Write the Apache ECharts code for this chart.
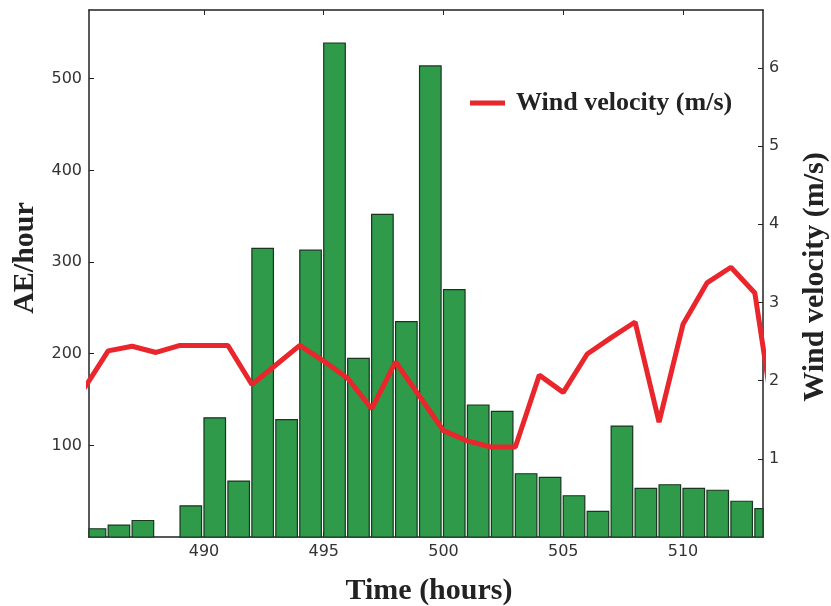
<!DOCTYPE html>
<html>
<head>
<meta charset="utf-8">
<script src="https://cdn.jsdelivr.net/npm/echarts@6/dist/echarts.min.js"></script>
<style>
  html, body { margin: 0; padding: 0; background: #fff; }
  #chart { width: 831px; height: 606px; }
</style>
</head>
<body>
<div id="chart"></div>
<script>
// hourly AE counts (bars start at the hour, no bar at 488)
const aeHours = [485, 486, 487, 489, 490, 491, 492, 493, 494, 495, 496, 497, 498, 499,
  500, 501, 502, 503, 504, 505, 506, 507, 508, 509, 510, 511, 512, 513]
const aeValues = [9, 13, 18, 34, 130, 61, 315, 128, 313, 539, 195, 352, 235, 514,
  270, 144, 137, 69, 65, 45, 28, 121, 53, 57, 53, 51, 39, 31]

// wind velocity, one reading per hour
const windHours = [485, 486, 487, 488, 489, 490, 491, 492, 493, 494, 495, 496, 497, 498, 499,
  500, 501, 502, 503, 504, 505, 506, 507, 508, 509, 510, 511, 512, 513, 514]
const windValues = [1.9, 2.38, 2.44, 2.36, 2.45, 2.45, 2.45, 1.95, 2.2, 2.45, 2.25, 2.03, 1.64, 2.24, 1.8,
  1.36, 1.23, 1.15, 1.15, 2.07, 1.85, 2.34, 2.55, 2.75, 1.47, 2.72, 3.25, 3.45, 3.12, 1.1]

const xTicks = [490, 495, 500, 505, 510]
const aeTicks = [100, 200, 300, 400, 500]
const windTicks = [1, 2, 3, 4, 5, 6]

const barSpan = 0.9
const tickFont = { fontFamily: 'DejaVu Sans', fontSize: 16, color: '#333' }
const titleFont = 'bold 30px "Liberation Serif"'

const chart = echarts.init(document.getElementById('chart'))

const frameLine = { show: true, onZero: false, lineStyle: { color: '#222', width: 1.5 } }
const innerTick = (vals) => ({ show: true, inside: true, length: 5, customValues: vals, lineStyle: { color: '#222' } })

chart.setOption({
  animation: false,
  grid: { left: 89, right: 68, top: 10, bottom: 69 },
  legend: {
    left: 470,
    top: 90,
    padding: 0,
    icon: 'rect',
    itemWidth: 35,
    itemHeight: 5,
    textStyle: { fontFamily: 'Liberation Serif', fontWeight: 'bold', fontSize: 26, color: '#222', padding: [0, 0, 0, 6] },
    data: ['Wind velocity (m/s)']
  },
  xAxis: [{
    type: 'value',
    min: 485.2,
    max: 513.34,
    axisLine: frameLine,
    axisTick: innerTick(xTicks),
    axisLabel: Object.assign({ margin: 7, customValues: xTicks }, tickFont),
    splitLine: { show: false }
  }, {
    type: 'value',
    position: 'top',
    min: 485.2,
    max: 513.34,
    axisLine: frameLine,
    axisTick: innerTick(xTicks),
    axisLabel: { show: false },
    splitLine: { show: false }
  }],
  yAxis: [{
    type: 'value',
    min: 0,
    max: 575,
    axisLine: frameLine,
    axisTick: innerTick(aeTicks),
    axisLabel: Object.assign({ margin: 7, customValues: aeTicks }, tickFont),
    splitLine: { show: false }
  }, {
    type: 'value',
    position: 'right',
    min: 0,
    max: 6.74,
    axisLine: frameLine,
    axisTick: innerTick(windTicks),
    axisLabel: Object.assign({ margin: 6, customValues: windTicks }, tickFont),
    splitLine: { show: false }
  }],
  graphic: [
    { type: 'text', x: 25, y: 258, rotation: Math.PI / 2,
      style: { text: 'AE/hour', font: titleFont, fill: '#222', align: 'center', verticalAlign: 'middle' } },
    { type: 'text', x: 815, y: 277, rotation: Math.PI / 2,
      style: { text: 'Wind velocity (m/s)', font: titleFont, fill: '#222', align: 'center', verticalAlign: 'middle' } },
    { type: 'text', x: 429, y: 591,
      style: { text: 'Time (hours)', font: titleFont, fill: '#222', align: 'center', verticalAlign: 'middle' } }
  ],
  series: [{
    name: 'AE',
    type: 'custom',
    xAxisIndex: 0,
    yAxisIndex: 0,
    data: aeHours.map((h, i) => [h, aeValues[i]]),
    renderItem(params, api) {
      const h = api.value(0)
      const p0 = api.coord([h, 0])
      const p1 = api.coord([h + barSpan, api.value(1)])
      const rect = echarts.graphic.clipRectByRect(
        { x: p0[0], y: p1[1], width: p1[0] - p0[0], height: p0[1] - p1[1] },
        { x: params.coordSys.x, y: params.coordSys.y, width: params.coordSys.width, height: params.coordSys.height }
      )
      if (!rect) return
      return {
        type: 'rect',
        shape: rect,
        style: { fill: '#2e9a4a', stroke: '#1a3520', lineWidth: 1.2 }
      }
    }
  }, {
    name: 'Wind velocity (m/s)',
    type: 'line',
    xAxisIndex: 0,
    yAxisIndex: 1,
    data: windHours.map((h, i) => [h, windValues[i]]),
    showSymbol: false,
    symbol: 'none',
    z: 5,
    itemStyle: { color: '#e8262c' },
    lineStyle: { color: '#e8262c', width: 5 }
  }]
})
</script>
</body>
</html>
